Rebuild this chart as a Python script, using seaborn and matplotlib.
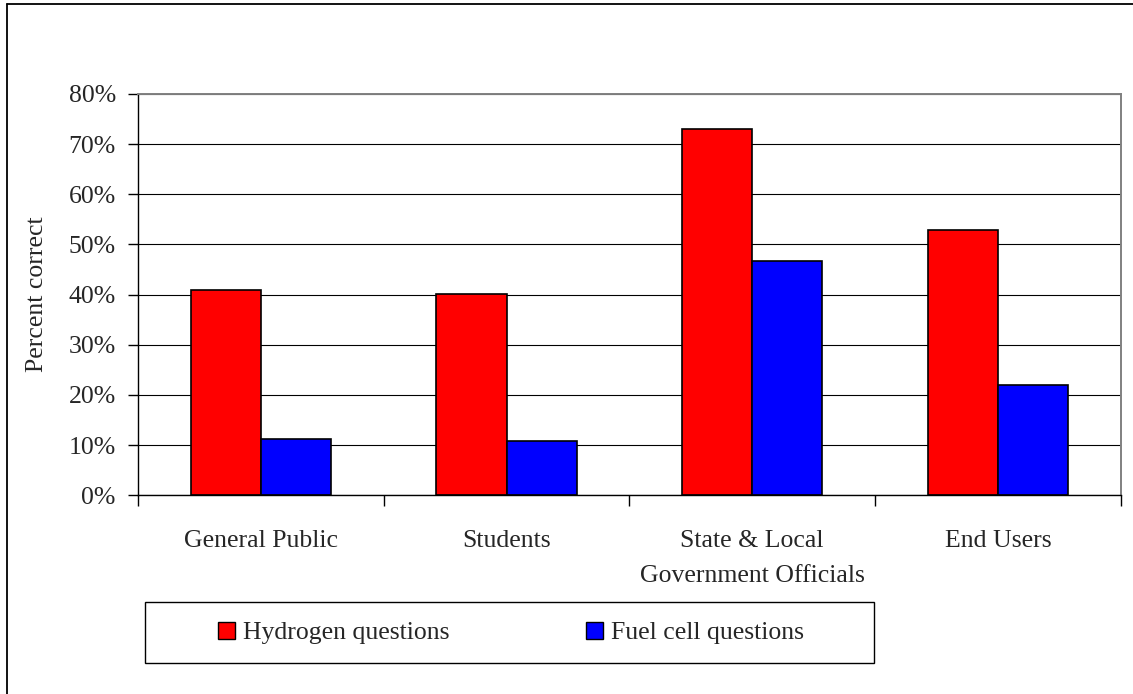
import pandas as pd
import matplotlib.pyplot as plt
import seaborn as sns
from matplotlib.patches import Patch, Rectangle
from matplotlib.lines import Line2D
from matplotlib.ticker import FuncFormatter

# Data
groups = ["General Public", "Students", "State & Local\nGovernment Officials", "End Users"]
series = ["Hydrogen questions", "Fuel cell questions"]
hydrogen = [0.409, 0.401, 0.730, 0.528]
fuel_cell = [0.112, 0.108, 0.468, 0.220]
colors = ["#FF0000", "#0000FF"]
yticks = [0.0, 0.1, 0.2, 0.3, 0.4, 0.5, 0.6, 0.7, 0.8]

df = pd.DataFrame({
    "group": groups * 2,
    "series": [series[0]] * len(groups) + [series[1]] * len(groups),
    "value": hydrogen + fuel_cell,
})

sns.set_style("white")
plt.rcParams["font.family"] = ["Liberation Serif", "DejaVu Serif"]
FS = 18.5

fig = plt.figure(figsize=(11.33, 6.94), dpi=100)
ax = fig.add_axes([138 / 1133, 1 - 495.3 / 694, (1120.7 - 138) / 1133, (495.3 - 94) / 694])

sns.barplot(data=df, x="group", y="value", hue="series", palette=colors,
            width=0.572, gap=0, edgecolor="black", linewidth=1.2,
            saturation=1, legend=False, ax=ax)

ax.set_xlim(-0.5, len(groups) - 0.5)
ax.set_ylim(0, 0.8)
ax.set_yticks(yticks)
ax.yaxis.set_major_formatter(FuncFormatter(lambda v, _: f"{v * 100:.0f}%"))
ax.set_axisbelow(True)
ax.yaxis.grid(True, color="black", linewidth=0.8)
ax.xaxis.grid(False)

# category labels at centres, tick marks at boundaries
ax.set_xticks(range(len(groups)))
ax.set_xticklabels(groups, fontsize=FS)
for t in ax.get_xticklabels():
    t.set_linespacing(1.75)
ax.set_xticks([i - 0.5 for i in range(len(groups) + 1)], minor=True)
ax.tick_params(axis="x", which="major", length=0, pad=25)
ax.tick_params(axis="x", which="minor", length=8, width=1, color="black", direction="out", bottom=True)
ax.tick_params(axis="y", length=7, width=1, color="black", direction="out", left=True, pad=9, labelsize=FS)

ax.set_xlabel("")
ax.set_ylabel("Percent correct", fontsize=FS)
ax.yaxis.set_label_coords(-0.092, 0.5)

for side in ["left", "bottom"]:
    ax.spines[side].set_color("black")
    ax.spines[side].set_linewidth(1.0)
for side in ["top", "right"]:
    ax.spines[side].set_color("#808080")
    ax.spines[side].set_linewidth(1.4)

# legend box below the plot
fig.patches.append(Rectangle((145 / 1133, 1 - 663 / 694), 729 / 1133, 61 / 694,
                             transform=fig.transFigure, fill=False,
                             edgecolor="black", linewidth=1.0))
handles = [Patch(facecolor=c, edgecolor="black", linewidth=1.0) for c in colors]
fig.legend(handles, series, loc="center", bbox_to_anchor=(510.8 / 1133, 1 - 633 / 694),
           ncol=2, frameon=False, fontsize=FS, handlelength=0.67, handleheight=0.67,
           handletextpad=0.32, columnspacing=5.3)

# outer frame (top and left edges visible)
fig.add_artist(Line2D([7.3 / 1133, 7.3 / 1133], [0, 1 - 4.3 / 694], transform=fig.transFigure,
                      color="black", linewidth=1.3))
fig.add_artist(Line2D([7.3 / 1133, 1], [1 - 4.3 / 694, 1 - 4.3 / 694], transform=fig.transFigure,
                      color="black", linewidth=1.3))

fig.savefig("out.png", dpi=100)
